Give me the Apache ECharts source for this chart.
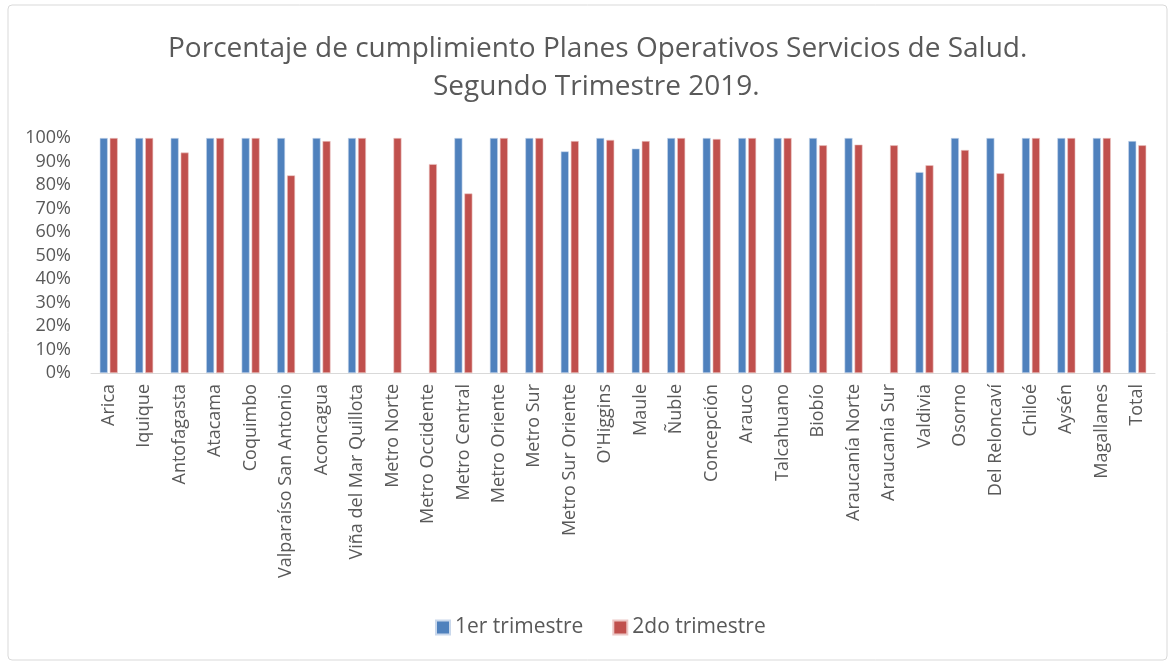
<!DOCTYPE html>
<html>
<head>
<meta charset="utf-8">
<script src="https://cdn.jsdelivr.net/npm/echarts@6/dist/echarts.min.js"></script>
<style>
  html, body { margin: 0; padding: 0; background: #fff; }
  #main { width: 1176px; height: 663px; }
</style>
</head>
<body>
<div id="main"></div>
<script>
// categorías (Servicios de Salud)
const categories = [
  "Arica", "Iquique", "Antofagasta", "Atacama", "Coquimbo",
  "Valparaíso San Antonio", "Aconcagua", "Viña del Mar Quillota",
  "Metro Norte", "Metro Occidente", "Metro Central", "Metro Oriente",
  "Metro Sur", "Metro Sur Oriente", "O'Higgins", "Maule", "Ñuble",
  "Concepción", "Arauco", "Talcahuano", "Biobío", "Araucanía Norte",
  "Araucanía Sur", "Valdivia", "Osorno", "Del Reloncaví", "Chiloé",
  "Aysén", "Magallanes", "Total"
];

// % cumplimiento 1er trimestre (null = sin dato)
const trimestre1 = [
  100, 100, 100, 100, 100, 100, 100, 100, null, null,
  100, 100, 100, 94.3, 100, 95.5, 100, 100, 100, 100,
  100, 100, null, 85.5, 100, 100, 100, 100, 100, 98.7
];

// % cumplimiento 2do trimestre
const trimestre2 = [
  100, 100, 93.8, 100, 100, 84.1, 98.7, 100, 100, 88.9,
  76.4, 100, 100, 98.7, 99.2, 98.7, 100, 99.6, 100, 100,
  96.9, 97.2, 96.9, 88.4, 94.9, 85.0, 100, 100, 100, 96.9
];

const seriesNames = ["1er trimestre", "2do trimestre"];
const colors = ["#4f81bd", "#c0504d"];

const titleLines = [
  "Porcentaje de cumplimiento Planes Operativos Servicios de Salud.",
  "Segundo Trimestre 2019.",
];

const fontFamily = "'Open Sans', 'Noto Sans', sans-serif";

const titleStyle = {
  fontFamily: fontFamily,
  fontWeight: "normal",
  fontSize: 28,
  color: "#595959",
  lineHeight: 38,
};

const option = {
  animation: false,
  textStyle: { fontFamily: fontFamily },
  // título en dos líneas
  title: [
    { text: titleLines[0], left: 168, top: 30, padding: 0, textStyle: titleStyle },
    { text: titleLines[1], left: 433, top: 68, padding: 0, textStyle: titleStyle },
  ],
  // marco del gráfico
  graphic: [
    {
      type: "rect",
      shape: { x: 8, y: 5, width: 1159, height: 655, r: 4 },
      style: { fill: "none", stroke: "#d9d9d9", lineWidth: 1 },
      z: -1,
    },
  ],
  legend: {
    top: 617,
    left: 435,
    padding: 0,
    itemWidth: 14,
    itemHeight: 14,
    itemGap: 29,
    icon: "rect",
    textStyle: { fontSize: 21, color: "#595959", fontFamily: fontFamily },
    data: seriesNames,
  },
  grid: {
    left: 91,
    right: 21,
    top: 138,
    bottom: 290,
  },
  xAxis: {
    type: "category",
    data: categories,
    axisLine: { lineStyle: { color: "#d9d9d9", width: 1 } },
    axisTick: { show: false },
    axisLabel: {
      rotate: 90,
      interval: 0,
      margin: 11,
      fontSize: 18,
      color: "#595959",
      fontFamily: fontFamily,
    },
  },
  yAxis: {
    type: "value",
    min: 0,
    max: 100,
    interval: 10,
    splitLine: { show: false },
    axisLine: { show: false },
    axisTick: { show: false },
    axisLabel: {
      formatter: "{value}%",
      fontSize: 18,
      color: "#595959",
      margin: 20,
      fontFamily: fontFamily,
    },
  },
  series: [
    {
      name: seriesNames[0],
      type: "bar",
      data: trimestre1,
      barWidth: 8,
      barGap: "25%",
      itemStyle: { color: colors[0], borderColor: "#c9d8ec", borderWidth: 0.6 },
    },
    {
      name: seriesNames[1],
      type: "bar",
      data: trimestre2,
      barWidth: 8,
      barGap: "25%",
      itemStyle: { color: colors[1], borderColor: "#ecc7c6", borderWidth: 0.6 },
    },
  ],
};

var chartDom = document.getElementById("main");
var myChart = echarts.init(chartDom);
myChart.setOption(option);
</script>
</body>
</html>
